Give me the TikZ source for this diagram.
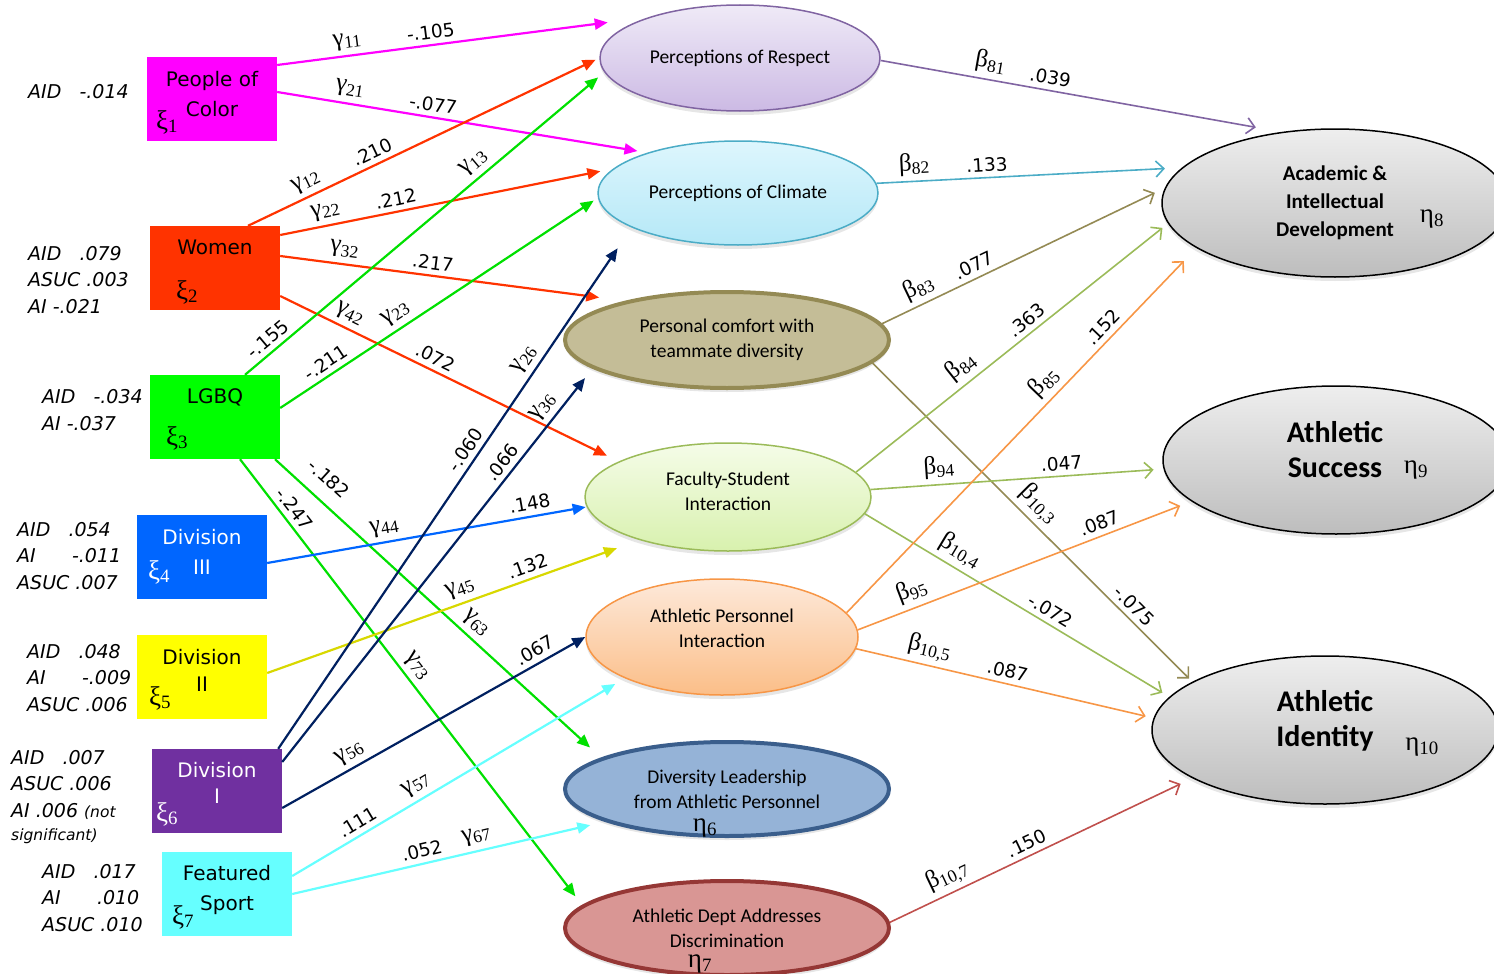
\documentclass[tikz,border=0pt]{standalone}
\usepackage{fontspec}
\usetikzlibrary{shapes.geometric,arrows.meta,shadows}
\newfontfamily\boxfont{DejaVu Sans}
\newfontfamily\elfont{Carlito}
\newfontfamily\grfont{Liberation Serif}
\definecolor{pocmag}{HTML}{FF00FF}
\definecolor{womred}{HTML}{FF3300}
\definecolor{lgbqgreen}{HTML}{00FF00}
\definecolor{lgbqline}{HTML}{00E000}
\definecolor{divblue}{HTML}{0066FF}
\definecolor{divyellow}{HTML}{FFFF00}
\definecolor{yellowline}{HTML}{D8D800}
\definecolor{divpurple}{HTML}{7030A0}
\definecolor{divoneline}{HTML}{002060}
\definecolor{featcyan}{HTML}{66FFFF}
\definecolor{respline}{HTML}{8064A2}
\definecolor{resptop}{HTML}{EFEAF7}
\definecolor{respbot}{HTML}{CCBAE4}
\definecolor{climline}{HTML}{4BACC6}
\definecolor{climtop}{HTML}{DDF6FD}
\definecolor{climbot}{HTML}{B5E8F7}
\definecolor{persfill}{HTML}{C4BD97}
\definecolor{persline}{HTML}{948A54}
\definecolor{facline}{HTML}{9BBB59}
\definecolor{factop}{HTML}{F5FCE8}
\definecolor{facbot}{HTML}{D8F1AE}
\definecolor{aperline}{HTML}{F79646}
\definecolor{apertop}{HTML}{FDE9DA}
\definecolor{aperbot}{HTML}{FBBE88}
\definecolor{divlfill}{HTML}{95B3D7}
\definecolor{divlline}{HTML}{3A5E8C}
\definecolor{adeptfill}{HTML}{D99694}
\definecolor{adeptline}{HTML}{953735}
\definecolor{adeptarrow}{HTML}{C0504D}
\definecolor{outtop}{HTML}{EEEEEE}
\definecolor{outbot}{HTML}{BDBDBD}
\newcommand{\gsym}[1]{γ\textsubscript{#1}}
\newcommand{\bsym}[1]{β\textsubscript{#1}}

\begin{document}
\begin{tikzpicture}[x=1pt,y=-1pt]
\tikzstyle{box}=[rectangle, minimum width=130pt, minimum height=84pt, inner sep=0pt]
\tikzstyle{boxtext}=[align=center, inner sep=0pt, font=\boxfont\fontsize{20}{30}\selectfont]
\tikzstyle{stats}=[align=left, anchor=west, inner sep=0pt, font=\boxfont\itshape\fontsize{19}{26.5}\selectfont]
\tikzstyle{greek}=[inner sep=0pt, font=\grfont\fontsize{27}{27}\selectfont]
\tikzstyle{eta}=[inner sep=0pt, font=\grfont\fontsize{27}{27}\selectfont]
\tikzstyle{main}=[ellipse, inner sep=0pt, align=center, font=\elfont\fontsize{19.5}{25}\selectfont, drop shadow={shadow xshift=0pt, shadow yshift=-4pt, opacity=.2}]
\tikzstyle{eltext}=[align=center, inner sep=0pt, font=\elfont\fontsize{19.5}{25}\selectfont]
\tikzstyle{outcome}=[ellipse, inner sep=0pt, align=center, minimum width=346pt, minimum height=148pt, draw=black, line width=1.5pt, top color=outtop, bottom color=outbot, drop shadow={shadow xshift=0pt, shadow yshift=-4pt, opacity=.2}]
\tikzstyle{outtext}=[align=center, inner sep=0pt, font=\elfont\bfseries\fontsize{30}{35}\selectfont]
\tikzstyle{gconnect}=[-{Triangle[length=13pt,width=11pt]}, line width=2.2pt]
\tikzstyle{bconnect}=[-{Straight Barb[length=8pt,width=16pt]}, line width=1.6pt]
\tikzstyle{coef}=[sloped, above=3pt, inner sep=2pt, text=black, font=\boxfont\fontsize{18.5}{18.5}\selectfont]
\tikzstyle{param}=[sloped, above=3pt, inner sep=2pt, text=black, font=\grfont\fontsize{25}{25}\selectfont]
\useasboundingbox (0,0) rectangle (1494,974);
\clip (0,0) rectangle (1494,974);
  % people of color
  \node[box, fill=pocmag] (poc) at (212,99) {};
  \node[boxtext] (poct) at (212,94) {People of\\Color};
  \node[greek] (xi1) at (167,122) {ξ\textsubscript{1}};
  \node[stats] (st1) at (28,92) {AID~~~-.014};
  % women
  \node[box, fill=womred] (wom) at (215,268) {};
  \node[boxtext] (womt) at (215,247) {Women};
  \node[greek] (xi2) at (187,292) {ξ\textsubscript{2}};
  \node[stats] (st2) at (28,280) {AID~~~.079\\ASUC .003\\AI -.021};
  % lgbq
  \node[box, fill=lgbqgreen] (lgbq) at (215,417) {};
  \node[boxtext] (lgbqt) at (215,397) {LGBQ};
  \node[greek] (xi3) at (177,438) {ξ\textsubscript{3}};
  \node[stats] (st3) at (42,410) {AID~~~-.034\\AI -.037};
  % division III
  \node[box, fill=divblue] (div3) at (202,557) {};
  \node[boxtext, white] (div3t) at (202,552) {Division\\III};
  \node[greek, white] (xi4) at (159,572) {ξ\textsubscript{4}};
  \node[stats] (st4) at (17,556) {AID~~~.054\\AI~~~~~~-.011\\ASUC .007};
  % division II
  \node[box, fill=divyellow] (div2) at (202,677) {};
  \node[boxtext] (div2t) at (202,670) {Division\\[-3pt]II};
  \node[greek] (xi5) at (160,698) {ξ\textsubscript{5}};
  \node[stats] (st5) at (27,678) {AID~~~.048\\AI~~~~~~-.009\\ASUC .006};
  % division I
  \node[box, fill=divpurple] (div1) at (217,791) {};
  \node[boxtext, white] (div1t) at (217,783) {Division\\[-4pt]I};
  \node[greek, white] (xi6) at (167,814) {ξ\textsubscript{6}};
  \node[stats] (st6) at (11,797) {AID~~~.007\\ASUC .006\\AI .006 {\fontsize{15.5}{20}\selectfont(not}\\[-3pt]{\fontsize{15.5}{20}\selectfont significant)}};
  % featured sport
  \node[box, fill=featcyan] (feat) at (227,894) {};
  \node[boxtext] (featt) at (227,890) {Featured\\Sport};
  \node[greek] (xi7) at (183,917) {ξ\textsubscript{7}};
  \node[stats] (st7) at (42,898) {AID~~~.017\\AI~~~~~~.010\\ASUC .010};
  % mediators
  \node[main, minimum width=280pt, minimum height=106pt, draw=respline, line width=1.5pt, top color=resptop, bottom color=respbot] (resp) at (740,58) {Perceptions of Respect};
  \node[main, minimum width=280pt, minimum height=104pt, draw=climline, line width=1.5pt, top color=climtop, bottom color=climbot] (clim) at (738,193) {Perceptions of Climate};
  \node[main, minimum width=324pt, minimum height=96pt, draw=persline, line width=4pt, fill=persfill] (pers) at (727,340) {Personal comfort with\\teammate diversity};
  \node[main, minimum width=286pt, minimum height=108pt, draw=facline, line width=1.5pt, top color=factop, bottom color=facbot] (fac) at (728,497) {};
  \node[eltext] (fact) at (728,491) {Faculty-Student\\Interaction};
  \node[main, minimum width=272pt, minimum height=116pt, draw=aperline, line width=1.5pt, top color=apertop, bottom color=aperbot] (aper) at (722,637) {};
  \node[eltext] (apert) at (722,628) {Athletic Personnel\\Interaction};
  \node[main, minimum width=324pt, minimum height=94pt, draw=divlline, line width=4pt, fill=divlfill] (divl) at (727,789) {Diversity Leadership\\from Athletic Personnel};
  \node[eta] (eta6) at (705,828) {η\textsubscript{6}};
  \node[main, minimum width=324pt, minimum height=94pt, draw=adeptline, line width=4pt, fill=adeptfill] (adept) at (727,928) {Athletic Dept Addresses\\Discrimination};
  \node[eta] (eta7) at (700,964) {η\textsubscript{7}};
  % outcomes
  \node[outcome, font=\elfont\bfseries\fontsize{21}{28}\selectfont] (acad) at (1335,203) {Academic \&\\Intellectual\\Development};
  \node[eta] (eta8) at (1432,219) {η\textsubscript{8}};
  \node[outcome] (succ) at (1336,460) {};
  \node[outtext] (succt) at (1335,450) {Athletic\\Success};
  \node[eta] (eta9) at (1416,470) {η\textsubscript{9}};
  \node[outcome] (iden) at (1325,730) {};
  \node[outtext] (ident) at (1325,721) {Athletic\\Identity};
  \node[eta] (eta10) at (1422,747) {η\textsubscript{10}};
  % gamma paths
  \path ([yshift=34pt]poc.east) edge [gconnect, draw=pocmag, shorten >=41pt] node[param, pos=.194] {\gsym{11}} node[coef, pos=.418] {-.105} (resp.156.2)
        ([yshift=7pt]poc.east) edge [gconnect, draw=pocmag, shorten >=10pt] node[param, pos=.19] {\gsym{21}} node[coef, pos=.416] {-.077} (clim.156.9)
        ([xshift=33pt]wom.north) edge [gconnect, draw=womred, shorten >=4pt] node[param, pos=.183] {\gsym{12}} node[coef, pos=.371] {.210} (resp.180)
        ([yshift=33pt]wom.east) edge [gconnect, draw=womred, shorten >=13pt] node[param, pos=.145] {\gsym{22}} node[coef, pos=.355] {.212} (clim.169.3)
        ([yshift=12pt]wom.east) edge [gconnect, draw=womred, shorten >=26pt] node[param, pos=.181] {\gsym{32}} node[coef, pos=.438] {.217} (pers.159.5)
        ([yshift=-28pt]wom.east) edge [gconnect, draw=womred, shorten >=13pt] node[param, pos=.186] {\gsym{42}} node[coef, pos=.442] {.072} (fac.162)
        ([xshift=30pt]lgbq.north) edge [gconnect, draw=lgbqline, shorten >=8pt] node[coef, pos=.086] {-.155} node[param, pos=.663] {\gsym{13}} (resp.186.7)
        ([yshift=9pt]lgbq.east) edge [gconnect, draw=lgbqline, shorten >=5pt] node[coef, pos=.166] {-.211} node[param, pos=.389] {\gsym{23}} (clim.182.7)
        ([xshift=60pt]lgbq.south) edge [gconnect, draw=lgbqline, shorten >=15pt] node[coef, pos=.12, above=9pt] {-.182} node[param, pos=.586] {\gsym{63}} (divl.166)
        ([xshift=25pt]lgbq.south) edge [gconnect, draw=lgbqline, shorten >=11pt] node[coef, pos=.129] {-.247} node[param, pos=.483] {\gsym{73}} (adept.171)
        ([yshift=-6pt]div3.east) edge [gconnect, draw=divblue, shorten >=1pt] node[param, pos=.375] {\gsym{44}} node[coef, pos=.829] {.148} (fac.184)
        ([yshift=4pt]div2.east) edge [gconnect, draw=yellowline, shorten >=24pt] node[param, pos=.531] {\gsym{45}} node[coef, pos=.711] {.132} (fac.206.2)
        ([xshift=-4pt]div1.north east) edge [gconnect, draw=divoneline, shorten >=25pt] node[coef, pos=.56] {-.060} node[param, pos=.731] {\gsym{26}} (clim.198.4)
        ([yshift=29pt]div1.east) edge [gconnect, draw=divoneline, shorten >=12pt] node[coef, pos=.741] {.066} node[param, pos=.878] {\gsym{36}} (pers.192)
        ([yshift=-17pt]div1.east) edge [gconnect, draw=divoneline] node[param, pos=.246] {\gsym{56}} node[coef, pos=.855] {.067} (aper.180)
        ([yshift=18pt]feat.east) edge [gconnect, draw=featcyan, shorten >=11pt] node[coef, pos=.217] {.111} node[param, pos=.396] {\gsym{57}} (aper.203.7)
        (feat.east) edge [gconnect, draw=featcyan, shorten >=15pt] node[coef, pos=.424] {.052} node[param, pos=.6] {\gsym{67}} (divl.195.6);
  % beta paths
  \path (resp.359) edge [bconnect, draw=respline, shorten >=26pt] node[param, pos=.267] {\bsym{81}} node[coef, pos=.418] {.039} (acad.127.6)
        (clim.4.9) edge [bconnect, draw=climline, shorten >=17pt] node[param, pos=.127] {\bsym{82}} node[coef, pos=.364] {.133} (acad.167.7)
        (pers.6.8) edge [bconnect, draw=persline, shorten >=11pt] node[param, pos=.155] {\bsym{83}} node[coef, pos=.344] {.077} (acad.175)
        (pers.351.4) edge [bconnect, draw=persline, shorten >=4.5pt] node[param, pos=.482] {\bsym{10,3}} node[coef, pos=.79] {-.075} (iden.160.7)
        (fac.11.1) edge [bconnect, draw=facline, shorten >=7pt] node[param, pos=.371] {\bsym{84}} node[coef, pos=.572] {.363} (acad.187)
        (fac.3.6) edge [bconnect, draw=facline, shorten >=10pt] node[param, pos=.238] {\bsym{94}} node[coef, pos=.655] {.047} (succ.183.1)
        (fac.353.8) edge [bconnect, draw=facline, shorten >=8pt] node[param, pos=.284] {\bsym{10,4}} node[coef, pos=.589] {-.072} (iden.168.5)
        (aper.11.2) edge [bconnect, draw=aperline, shorten >=18pt] node[param, pos=.60] {\bsym{85}} node[coef, pos=.759] {.152} (acad.198.8)
        (aper.3.8) edge [bconnect, draw=aperline, shorten >=12pt] node[param, pos=.18] {\bsym{95}} node[coef, pos=.737] {.087} (succ.196.8)
        (aper.355.4) edge [bconnect, draw=aperline, shorten >=8pt] node[param, pos=.234] {\bsym{10,5}} node[coef, pos=.50] {.087} (iden.176.6)
        (adept.2) edge [bconnect, draw=adeptarrow, shorten >=13pt] node[param, pos=.215] {\bsym{10,7}} node[coef, pos=.47] {.150} (iden.200.4);
\end{tikzpicture}
\end{document}
